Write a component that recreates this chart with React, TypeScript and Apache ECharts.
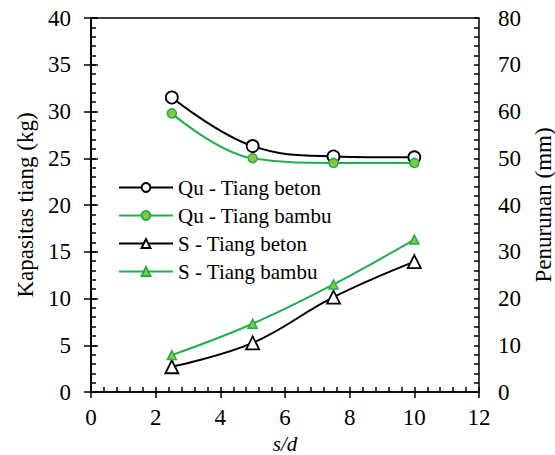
import React, { useEffect, useRef } from "react";
import * as echarts from "echarts";

const sdValues = [2.5, 5, 7.5, 10];
const quBeton = [31.5, 26.3, 25.2, 25.1];
const quBambu = [29.8, 25.0, 24.5, 24.5];
const sBeton = [5.4, 10.5, 20.3, 27.9];
const sBambu = [7.9, 14.6, 23.0, 32.6];

const seriesNames = ["Qu - Tiang beton", "Qu - Tiang bambu", "S - Tiang beton", "S - Tiang bambu"];

const FONT = "Liberation Serif";
const GREEN = "#1DB04B";
const GREEN_FILL = "#8CC63F";

function pairs(ys: number[]) {
  return sdValues.map((x, i) => [x, ys[i]]);
}

export default function App() {
  const ref = useRef<HTMLDivElement>(null);
  useEffect(() => {
    if (!ref.current) return;
    const chart = echarts.init(ref.current, undefined, { renderer: "svg" });
    const labelStyle = { color: "#000", fontFamily: FONT, fontSize: 23 };
    const axisLine = { show: true, lineStyle: { color: "#000", width: 1.5 } };
    const innerAxis = (extra: any) => ({
      type: "value",
      axisLine: { show: false },
      axisLabel: { show: false },
      splitLine: { show: false },
      axisTick: { show: true, inside: true, length: 5, lineStyle: { color: "#000", width: 1.5 } },
      minorTick: { show: true, splitNumber: 5, length: 5, lineStyle: { color: "#000", width: 1.5 } },
      ...extra,
    });
    chart.setOption({
      animation: false,
      textStyle: { fontFamily: FONT },
      grid: {
        left: 91,
        right: 76,
        top: 18,
        bottom: 63,
        containLabel: false,
        outerBoundsMode: "none",
        show: true,
        borderColor: "#000",
        borderWidth: 1.5,
        backgroundColor: "transparent",
      },
      legend: {
        orient: "vertical",
        left: 113,
        top: 172,
        itemWidth: 54,
        itemHeight: 11,
        itemGap: 7,
        textStyle: { color: "#000", fontFamily: FONT, fontSize: 21 },
        data: seriesNames,
      },
      xAxis: [
        {
          type: "value",
          min: 0,
          max: 12,
          interval: 2,
          position: "bottom",
          axisLine,
          axisTick: { show: true, length: 6, lineStyle: { color: "#000", width: 1.5 } },
          axisLabel: { ...labelStyle, margin: 14 },
          splitLine: { show: false },
          name: "s/d",
          nameLocation: "middle",
          nameGap: 31,
          nameTextStyle: { color: "#000", fontFamily: FONT, fontStyle: "italic", fontSize: 21, lineHeight: 21 },
        },
        innerAxis({ min: 0, max: 12, interval: 2, position: "bottom" }),
      ],
      yAxis: [
        {
          type: "value",
          min: 0,
          max: 40,
          interval: 5,
          position: "left",
          axisLine,
          axisTick: { show: true, length: 7, lineStyle: { color: "#000", width: 1.5 } },
          axisLabel: { ...labelStyle, margin: 20 },
          splitLine: { show: false },
          name: "Kapasitas tiang (kg)",
          nameLocation: "middle",
          nameRotate: 90,
          nameGap: 50,
          nameTextStyle: { ...labelStyle },
        },
        {
          type: "value",
          min: 0,
          max: 80,
          interval: 10,
          position: "right",
          axisLine,
          axisTick: { show: true, length: 7, lineStyle: { color: "#000", width: 1.5 } },
          axisLabel: { ...labelStyle, margin: 19 },
          splitLine: { show: false },
          name: "Penurunan (mm)",
          nameLocation: "middle",
          nameRotate: 90,
          nameGap: 53,
          nameTextStyle: { ...labelStyle },
        },
        innerAxis({ min: 0, max: 40, interval: 5, position: "left" }),
        innerAxis({ min: 0, max: 80, interval: 10, position: "right" }),
      ],
      series: [
        {
          name: seriesNames[0],
          type: "line",
          yAxisIndex: 0,
          data: pairs(quBeton),
          smooth: 0.4,
          symbol: "circle",
          symbolSize: 12,
          lineStyle: { color: "#000", width: 2 },
          itemStyle: { color: "#fff", borderColor: "#000", borderWidth: 1.8 },
        },
        {
          name: seriesNames[1],
          type: "line",
          yAxisIndex: 0,
          data: pairs(quBambu),
          smooth: 0.4,
          symbol: "circle",
          symbolSize: 9,
          lineStyle: { color: GREEN, width: 2 },
          itemStyle: { color: GREEN_FILL, borderColor: GREEN, borderWidth: 1.5 },
        },
        {
          name: seriesNames[2],
          type: "line",
          yAxisIndex: 1,
          data: pairs(sBeton),
          smooth: 0.4,
          symbol: "triangle",
          symbolSize: 13,
          lineStyle: { color: "#000", width: 2 },
          itemStyle: { color: "#fff", borderColor: "#000", borderWidth: 1.8 },
        },
        {
          name: seriesNames[3],
          type: "line",
          yAxisIndex: 1,
          data: pairs(sBambu),
          smooth: 0.4,
          symbol: "triangle",
          symbolSize: 9,
          lineStyle: { color: GREEN, width: 2 },
          itemStyle: { color: GREEN_FILL, borderColor: GREEN, borderWidth: 1.5 },
        },
      ],
    });
    return () => chart.dispose();
  }, []);
  return <div ref={ref} style={{ width: 555, height: 455, position: "absolute", left: 0, top: 0, background: "#fff" }} />;
}
